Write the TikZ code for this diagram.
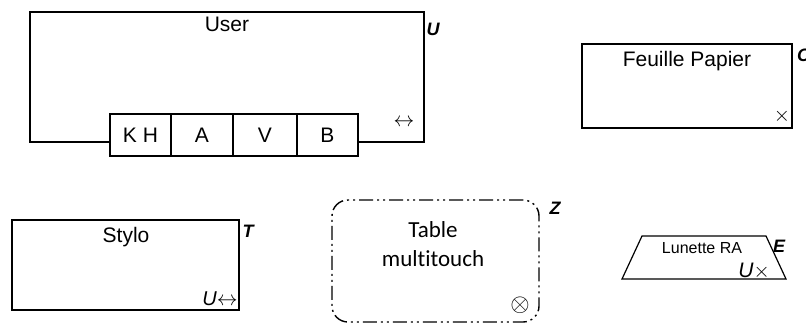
\documentclass[tikz,border=0pt]{standalone}
\usepackage{amssymb}
\usepackage{amsmath}
\usepackage{fontspec}
\setmainfont{Liberation Sans}
\newfontfamily\calfont[Ligatures=NoCommon]{Carlito}
\usepackage{xcolor}
\usepackage{tikz}

\begin{document}
\begin{tikzpicture}[x=1pt, y=-1pt,
		box/.style={draw, line width=1.2pt, inner sep=0pt},
		lbl/.style={inner sep=0pt, font=\fontsize{21}{25}\selectfont},
		tag/.style={inner sep=0pt, font=\fontsize{18}{21}\selectfont\bfseries\itshape},
		symb/.style={inner sep=0pt, font=\fontsize{20}{24}\selectfont}]
		\useasboundingbox (0, 0) rectangle (806, 324);
		%
		%% User frame
		\coordinate (uBL) at (30, 142); \coordinate (uTL) at (30, 12);
		\coordinate (uTR) at (424, 12); \coordinate (uBR) at (424, 142);
		\node[box, lbl, minimum width=61pt, minimum height=42pt] (KH) at (140.5, 135) {K H};
		\node[box, lbl, minimum width=62pt, minimum height=42pt] (A) at (202, 135) {A};
		\node[box, lbl, minimum width=64pt, minimum height=42pt] (V) at (265, 135) {V};
		\node[box, lbl, minimum width=61pt, minimum height=42pt] (B) at (327.5, 135) {B};
		\node[lbl, anchor=base] (user) at (227, 31) {User};
		\node[tag] (U) at (433, 29) {U};
		\node[symb] (uArrow) at (404, 123) {$\leftrightarrow$};
		\draw[line width=1.2pt] (uBL -| KH.west) -- (uBL) -- (uTL) -- (uTR) -- (uBR) -- (uBR -| B.east);
		%
		%% Feuille Papier
		\node[box, minimum width=210pt, minimum height=84pt] (papier) at (687, 86) {};
		\node[lbl, anchor=base] (papierTxt) at (687, 66) {Feuille Papier};
		\node[symb, font=\fontsize{22}{26}\selectfont] (papierX) at (782, 116) {$\times$};
		\node[tag, anchor=base west] (C) at (797, 61) {C};
		%
		%% Stylo
		\node[box, minimum width=227pt, minimum height=90pt] (stylo) at (125.5, 265) {};
		\node[lbl, anchor=base] (styloTxt) at (126, 242) {Stylo};
		\node[symb, anchor=base] (styloU) at (220, 305) {\itshape U$\leftrightarrow$};
		\node[tag] (T) at (248, 231) {T};
		%
		%% Table multitouch
		\node[box, line width=1.4pt, rounded corners=16pt,
			dash pattern=on 14pt off 4pt on 2pt off 4pt on 2pt off 4pt,
			minimum width=207pt, minimum height=122pt] (table) at (435.5, 261) {};
		\node[inner sep=0pt, anchor=base, font=\calfont\fontsize{23}{28}\selectfont] (tableA) at (433, 237) {Table};
		\node[inner sep=0pt, anchor=base, font=\calfont\fontsize{23}{28}\selectfont] (tableB) at (433, 266) {multitouch};
		\node[symb, font=\fontsize{25}{30}\selectfont] (tableO) at (520, 305) {$\otimes$};
		\node[tag] (Z) at (555, 208) {Z};
		%
		%% Lunette RA
		\coordinate (lBL) at (622, 279); \coordinate (lTL) at (642, 236);
		\coordinate (lTR) at (766, 236); \coordinate (lBR) at (786, 279);
		\draw[line width=1.2pt] (lBL) -- (lTL) -- (lTR) -- (lBR) -- cycle;
		\node[inner sep=0pt, anchor=base, font=\fontsize{16}{19}\selectfont] (lunette) at (702, 253) {Lunette RA};
		\node[symb, anchor=base, font=\fontsize{21}{25}\selectfont] (lunU) at (754, 277) {\itshape U$\times$};
		\node[tag] (E) at (779, 246) {E};
\end{tikzpicture}
\end{document}
